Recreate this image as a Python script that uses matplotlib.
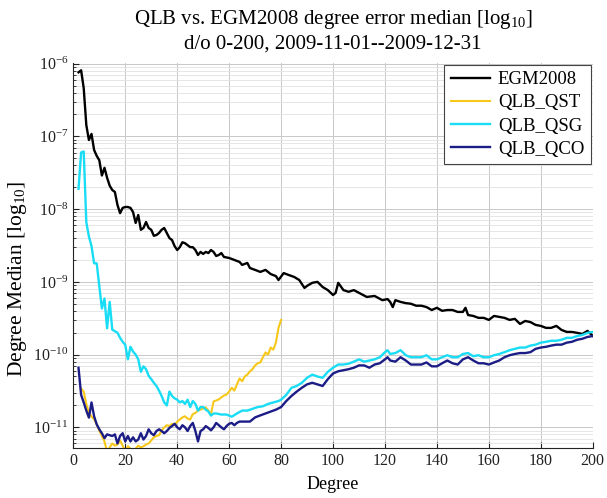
import numpy as np
import matplotlib
matplotlib.use("Agg")
import matplotlib.pyplot as plt
from matplotlib.ticker import LogLocator, LogFormatterSciNotation, MultipleLocator, NullFormatter

plt.rcParams['font.family'] = ['Liberation Serif', 'DejaVu Serif']
plt.rcParams['mathtext.fontset'] = 'custom'
plt.rcParams['mathtext.rm'] = 'Liberation Serif'
plt.rcParams['mathtext.it'] = 'Liberation Serif:italic'

# EGM2008
egm_deg = [2, 3, 4, 5, 6, 7, 8, 9, 10, 11, 12, 13, 14, 15, 16, 17, 18, 19, 20, 21,
           22, 23, 24, 25, 26, 27, 28, 29, 30, 31, 32, 33, 34, 35, 36, 37, 38, 39, 40, 41,
           42, 43, 44, 45, 46, 47, 48, 49, 50, 51, 52, 53, 54, 55, 56, 57, 58, 60, 62, 64,
           65, 67, 68, 70, 72, 74, 76, 78, 79, 81, 83, 85, 87, 89, 90, 92, 94, 96, 98, 100,
           101, 102, 104, 106, 108, 110, 113, 116, 119, 121, 122, 123, 124, 126, 128, 130, 132, 134, 136, 138,
           140, 142, 144, 146, 148, 150, 151, 152, 154, 156, 158, 160, 162, 164, 166, 168, 170, 172, 174, 176,
           178, 180, 182, 184, 186, 188, 190, 192, 194, 196, 198, 200]
egm_val = [7.6e-7, 8.1e-7, 4.6e-7, 1.43e-7, 8.9e-8, 1.08e-7, 6.5e-8, 5.4e-8, 4.7e-8, 2.9e-8,
           3.7e-8, 2.7e-8, 2.1e-8, 1.83e-8, 1.72e-8, 1.14e-8, 8.8e-9, 1.04e-8, 1.07e-8, 1.07e-8,
           1.04e-8, 9.1e-9, 6.45e-9, 8.3e-9, 5.2e-9, 5.5e-9, 6.65e-9, 5.5e-9, 5.2e-9, 4.3e-9,
           4.4e-9, 4.7e-9, 5.2e-9, 5.5e-9, 4.7e-9, 4.0e-9, 3.76e-9, 3.1e-9, 2.74e-9, 3.0e-9,
           3.5e-9, 3.4e-9, 3.2e-9, 3.0e-9, 3.0e-9, 2.74e-9, 2.34e-9, 2.58e-9, 2.42e-9, 2.58e-9,
           2.49e-9, 2.74e-9, 2.58e-9, 2.27e-9, 2.34e-9, 2.49e-9, 2.2e-9, 2.13e-9, 2.0e-9, 1.88e-9,
           1.71e-9, 1.82e-9, 1.55e-9, 1.46e-9, 1.37e-9, 1.46e-9, 1.28e-9, 1.2e-9, 1.06e-9, 1.32e-9,
           1.24e-9, 1.17e-9, 1.06e-9, 8.25e-10, 8.8e-10, 9.7e-10, 1.0e-9, 8.5e-10, 7.7e-10, 6.6e-10,
           7.05e-10, 9.7e-10, 7.7e-10, 7.3e-10, 7.7e-10, 7.05e-10, 6.2e-10, 6.4e-10, 5.6e-10, 5.8e-10,
           5.3e-10, 4.5e-10, 5.6e-10, 5.3e-10, 5.1e-10, 5.0e-10, 4.7e-10, 4.7e-10, 4.5e-10, 4.1e-10,
           4.4e-10, 4.0e-10, 4.1e-10, 4.1e-10, 3.86e-10, 3.86e-10, 4.4e-10, 3.5e-10, 3.4e-10, 3.2e-10,
           3.2e-10, 3.0e-10, 3.4e-10, 3.3e-10, 3.2e-10, 3.0e-10, 3.1e-10, 2.64e-10, 2.9e-10, 2.8e-10,
           2.56e-10, 2.48e-10, 2.33e-10, 2.33e-10, 2.48e-10, 2.18e-10, 2.05e-10, 2.05e-10, 1.99e-10, 1.92e-10,
           2.12e-10, 1.81e-10]

# QLB_QST
qst_deg = list(range(3, 81))
qst_val = [3.4e-11, 3.1e-11, 2.1e-11, 1.6e-11, 1.4e-11, 1.3e-11, 1.1e-11, 9.0e-12, 7.6e-12, 6.4e-12,
           4.6e-12, 5.3e-12, 6.0e-12, 5.6e-12, 5.8e-12, 6.6e-12, 5.6e-12, 4.6e-12, 5.5e-12, 5.1e-12,
           4.8e-12, 5.1e-12, 5.6e-12, 5.3e-12, 5.5e-12, 5.8e-12, 6.0e-12, 6.6e-12, 7.3e-12, 7.6e-12,
           7.8e-12, 9.0e-12, 1.0e-11, 1.07e-11, 1.04e-11, 1.12e-11, 1.07e-11, 1.2e-11, 1.28e-11, 1.37e-11,
           1.42e-11, 1.32e-11, 1.28e-11, 1.52e-11, 1.58e-11, 1.7e-11, 1.75e-11, 1.82e-11, 1.88e-11, 1.7e-11,
           1.52e-11, 2.27e-11, 2.34e-11, 2.42e-11, 2.58e-11, 2.74e-11, 2.83e-11, 3.1e-11, 3.5e-11, 3.2e-11,
           3.9e-11, 4.7e-11, 4.3e-11, 5.0e-11, 5.3e-11, 5.9e-11, 6.3e-11, 7.1e-11, 7.6e-11, 7.8e-11,
           9.2e-11, 1.07e-10, 1.0e-10, 1.25e-10, 1.17e-10, 1.46e-10, 2.33e-10, 3.0e-10]

# QLB_QSG
qsg_deg = [2, 3, 4, 5, 6, 7, 8, 9, 10, 11, 12, 13, 14, 15, 16, 17, 18, 19, 20, 21,
           22, 23, 24, 25, 26, 27, 28, 29, 30, 31, 32, 33, 34, 35, 36, 37, 38, 39, 40, 41,
           42, 43, 44, 45, 46, 47, 48, 49, 50, 51, 52, 53, 54, 55, 57, 59, 61, 63, 65, 67,
           69, 71, 73, 75, 77, 79, 80, 82, 84, 86, 88, 90, 92, 94, 96, 98, 100, 102, 104, 106,
           108, 110, 112, 114, 116, 118, 120, 121, 122, 124, 126, 128, 130, 132, 134, 136, 138, 140, 142, 144,
           146, 148, 150, 152, 154, 156, 158, 160, 162, 164, 166, 168, 170, 172, 174, 176, 178, 180, 182, 184,
           186, 188, 190, 192, 194, 196, 198, 200]
qsg_val = [1.9e-8, 6.0e-8, 6.2e-8, 6.6e-9, 4.2e-9, 3.1e-9, 1.8e-9, 1.8e-9, 8.8e-10, 4.3e-10,
           5.9e-10, 2.3e-10, 5.3e-10, 2.2e-10, 2.1e-10, 2.0e-10, 1.7e-10, 1.5e-10, 1.36e-10, 8.6e-11,
           1.28e-10, 1.1e-10, 1.0e-10, 8.6e-11, 5.8e-11, 6.9e-11, 6.3e-11, 5.1e-11, 4.6e-11, 4.1e-11,
           3.7e-11, 3.2e-11, 2.7e-11, 2.2e-11, 2.0e-11, 3.1e-11, 2.7e-11, 2.5e-11, 2.4e-11, 2.2e-11,
           2.3e-11, 2.1e-11, 2.4e-11, 1.9e-11, 2.3e-11, 2.1e-11, 1.7e-11, 1.9e-11, 1.9e-11, 1.75e-11,
           1.65e-11, 1.45e-11, 1.55e-11, 1.55e-11, 1.5e-11, 1.5e-11, 1.4e-11, 1.55e-11, 1.7e-11, 1.7e-11,
           1.8e-11, 1.9e-11, 1.95e-11, 2.1e-11, 2.2e-11, 2.3e-11, 2.4e-11, 2.8e-11, 3.5e-11, 3.7e-11,
           4.1e-11, 4.8e-11, 5.3e-11, 5.0e-11, 4.8e-11, 5.8e-11, 6.6e-11, 7.3e-11, 7.3e-11, 7.5e-11,
           8.0e-11, 8.6e-11, 8.0e-11, 8.3e-11, 8.6e-11, 9.2e-11, 1.08e-10, 1.15e-10, 1.02e-10, 1.05e-10,
           1.15e-10, 9.8e-11, 9.2e-11, 9.2e-11, 9.2e-11, 9.8e-11, 8.6e-11, 8.6e-11, 9.2e-11, 9.8e-11,
           9.2e-11, 9.2e-11, 1.02e-10, 1.05e-10, 9.5e-11, 9.8e-11, 9.2e-11, 9.2e-11, 9.8e-11, 1.02e-10,
           1.08e-10, 1.15e-10, 1.2e-10, 1.25e-10, 1.25e-10, 1.33e-10, 1.37e-10, 1.46e-10, 1.5e-10, 1.55e-10,
           1.55e-10, 1.6e-10, 1.7e-10, 1.7e-10, 1.8e-10, 1.86e-10, 1.99e-10, 2.05e-10]

# QLB_QCO
qco_deg = [2, 3, 4, 5, 6, 7, 8, 9, 10, 11, 12, 13, 14, 15, 16, 17, 18, 19, 20, 21,
           22, 23, 24, 25, 26, 27, 28, 29, 30, 31, 32, 33, 34, 35, 36, 37, 38, 39, 40, 41,
           42, 43, 44, 45, 46, 47, 48, 49, 50, 51, 52, 53, 54, 55, 56, 57, 58, 59, 60, 61,
           62, 63, 64, 66, 68, 70, 72, 74, 76, 78, 80, 82, 84, 86, 88, 90, 92, 94, 96, 98,
           100, 102, 104, 106, 108, 110, 112, 114, 116, 118, 120, 121, 122, 124, 126, 128, 130, 132, 134, 136,
           138, 140, 142, 144, 146, 148, 150, 152, 154, 156, 158, 160, 162, 164, 166, 168, 170, 172, 174, 176,
           178, 180, 182, 184, 186, 188, 190, 192, 194, 196, 198, 200]
qco_val = [6.6e-11, 2.8e-11, 2.2e-11, 1.7e-11, 1.36e-11, 2.2e-11, 1.42e-11, 1.1e-11, 9.4e-12, 8.3e-12,
           7.1e-12, 8.0e-12, 7.8e-12, 7.6e-12, 8.0e-12, 6.0e-12, 7.6e-12, 8.3e-12, 6.4e-12, 7.6e-12,
           6.4e-12, 7.3e-12, 6.4e-12, 6.8e-12, 8.3e-12, 6.8e-12, 7.6e-12, 9.4e-12, 8.3e-12, 7.8e-12,
           8.9e-12, 9.4e-12, 8.9e-12, 8.3e-12, 8.9e-12, 9.8e-12, 1.04e-11, 1.12e-11, 1.0e-11, 9.4e-12,
           1.07e-11, 1.0e-11, 8.9e-12, 1.04e-11, 1.15e-11, 8.9e-12, 6.4e-12, 8.9e-12, 9.4e-12, 1.04e-11,
           9.8e-12, 9.1e-12, 1.0e-11, 1.15e-11, 1.07e-11, 1.0e-11, 9.4e-12, 1.04e-11, 1.12e-11, 1.15e-11,
           1.07e-11, 1.15e-11, 1.2e-11, 1.2e-11, 1.2e-11, 1.37e-11, 1.46e-11, 1.55e-11, 1.65e-11, 1.75e-11,
           1.9e-11, 2.3e-11, 2.7e-11, 3.1e-11, 3.5e-11, 3.9e-11, 4.1e-11, 3.9e-11, 3.7e-11, 4.6e-11,
           5.5e-11, 5.9e-11, 6.1e-11, 6.3e-11, 6.6e-11, 7.1e-11, 7.1e-11, 6.6e-11, 7.3e-11, 7.6e-11,
           8.6e-11, 9.2e-11, 8.3e-11, 8.0e-11, 9.2e-11, 8.3e-11, 7.3e-11, 7.3e-11, 7.3e-11, 7.8e-11,
           6.9e-11, 6.9e-11, 7.6e-11, 8.3e-11, 7.6e-11, 7.3e-11, 8.6e-11, 9.2e-11, 8.3e-11, 7.6e-11,
           7.6e-11, 7.3e-11, 7.8e-11, 8.3e-11, 9.2e-11, 9.8e-11, 1.02e-10, 1.05e-10, 1.05e-10, 1.08e-10,
           1.2e-10, 1.25e-10, 1.28e-10, 1.33e-10, 1.37e-10, 1.37e-10, 1.46e-10, 1.5e-10, 1.6e-10, 1.65e-10,
           1.75e-10, 1.8e-10]

fig = plt.figure(figsize=(6.07, 4.98), dpi=100)
ax = fig.add_axes([0.1208, 0.1004, 0.8557, 0.7737])

ax.semilogy(egm_deg, egm_val, color='black', lw=1.7, label='EGM2008')
ax.semilogy(qst_deg, qst_val, color='#f7c81a', lw=1.5, label='QLB_QST')
ax.semilogy(qsg_deg, qsg_val, color='#19dcf5', lw=1.7, label='QLB_QSG')
ax.semilogy(qco_deg, qco_val, color='#1c1c86', lw=1.7, label='QLB_QCO')

ax.set_xlim(0, 200)
ax.set_ylim(5.2e-12, 1.03e-6)
ax.xaxis.set_major_locator(MultipleLocator(20))
ax.yaxis.set_major_locator(LogLocator(base=10, numticks=20))
ax.yaxis.set_minor_locator(LogLocator(base=10, subs=np.arange(2, 10), numticks=20))
ax.yaxis.set_major_formatter(LogFormatterSciNotation())
ax.yaxis.set_minor_formatter(NullFormatter())

ax.grid(True, which='major', color='#c8c8c8', lw=0.7)
ax.grid(True, which='minor', axis='y', color='#e2e2e2', lw=0.6)
ax.set_axisbelow(True)

ax.spines['top'].set_visible(False)
ax.spines['right'].set_visible(False)
for s in ['left', 'bottom']:
    ax.spines[s].set_color('#222222')
ax.tick_params(which='both', direction='in', labelsize=11.5, colors='#222222')
ax.tick_params(which='major', length=4)
ax.tick_params(which='minor', length=2.5)
ax.tick_params(axis='x', which='minor', bottom=False)

ax.set_xlabel('Degree', fontsize=13, labelpad=5)
ax.set_ylabel('Degree Median [log$_{\\mathrm{10}}$]', fontsize=15.5)
ax.yaxis.set_label_coords(-0.085, 0.44)
ax.set_title('QLB vs. EGM2008 degree error median [log$_{\\mathrm{10}}$]\nd/o 0-200, 2009-11-01--2009-12-31',
             fontsize=15, pad=10, linespacing=1.3)

leg = ax.legend(loc='upper right', fontsize=13.5, handlelength=2.1, fancybox=False,
                framealpha=1, edgecolor='#444444', borderpad=0.35, labelspacing=0.32,
                handletextpad=0.4, borderaxespad=0.1)
leg.get_frame().set_linewidth(0.8)

fig.savefig('out.png', dpi=100)
